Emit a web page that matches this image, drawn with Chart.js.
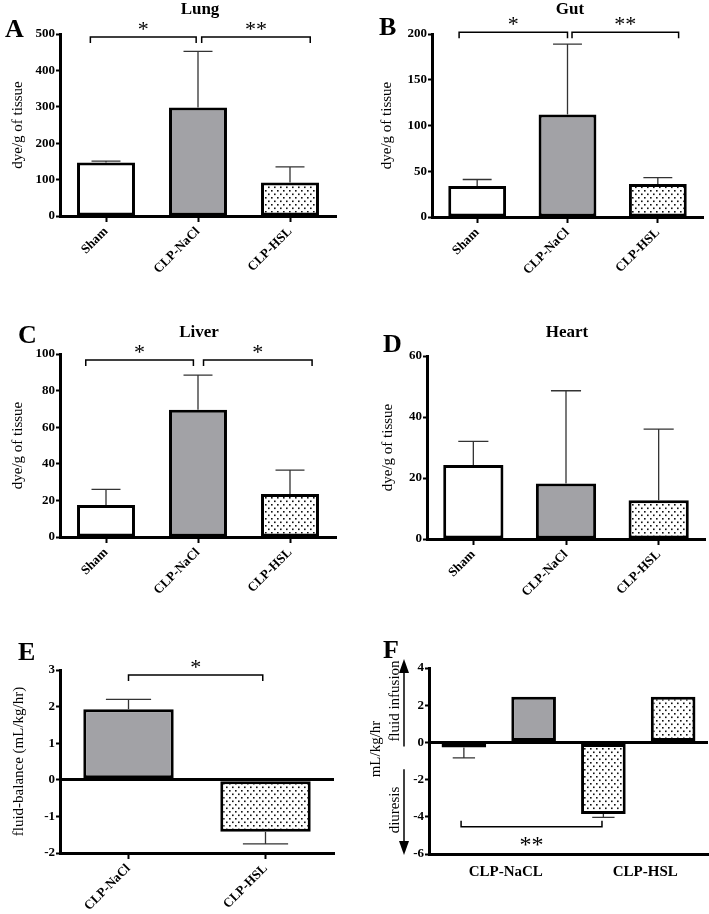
<!DOCTYPE html>
<html>
<head>
<meta charset="utf-8">
<script src="https://cdn.jsdelivr.net/npm/chart.js@4"></script>
<style>
  body { margin: 0; background: #fff; }
  #page { position: relative; width: 709px; height: 914px; }
  canvas { position: absolute; }
</style>
</head>
<body>
<div id="page">
  <canvas id="lung" width="355" height="300" style="left:0;top:0"></canvas>
  <canvas id="gut" width="354" height="300" style="left:355px;top:0"></canvas>
  <canvas id="liver" width="355" height="300" style="left:0;top:300px"></canvas>
  <canvas id="heart" width="354" height="300" style="left:355px;top:300px"></canvas>
  <canvas id="balance" width="355" height="314" style="left:0;top:600px"></canvas>
  <canvas id="flow" width="354" height="314" style="left:355px;top:600px"></canvas>
</div>
<script>
// values (mean, and the end of the error bar)
const organGroups = ['Sham', 'CLP-NaCl', 'CLP-HSL'];
const lungMeans = [147, 298, 92];
const lungErrors = [151, 452, 135];
const gutMeans = [34, 112, 36];
const gutErrors = [41, 189, 43];
const liverMeans = [17.5, 69.5, 23.5];
const liverErrors = [26, 88.5, 36.5];
const heartMeans = [24.3, 18.2, 12.7];
const heartErrors = [32, 48.6, 36];

const balanceGroups = ['CLP-NaCl', 'CLP-HSL'];
const balanceMeans = [1.93, -1.42];
const balanceErrors = [2.2, -1.75];

const flowGroups = ['CLP-NaCL', 'CLP-HSL'];
const diuresisMeans = [-0.28, -3.85];
const diuresisErrors = [-0.83, -4.03];
const infusionMeans = [2.45, 2.45];

const SERIF = "'Liberation Serif', 'Times New Roman', serif";
Chart.defaults.font.family = SERIF;
Chart.defaults.color = '#000';

const GREY = '#a2a2a6';

function font(size, weight) {
    return { family: SERIF, size: size, weight: weight || 'normal' };
}

// white fill with small staggered black dots
function makeDots() {
    const c = document.createElement('canvas');
    c.width = 6; c.height = 7;
    const g = c.getContext('2d');
    g.fillStyle = '#fff';
    g.fillRect(0, 0, 6, 7);
    g.fillStyle = '#111';
    g.fillRect(1, 1, 1.6, 1.6);
    g.fillRect(4, 4.5, 1.6, 1.6);
    return g.createPattern(c, 'repeat');
}
const DOTS = makeDots();
const organFills = ['#fff', GREY, DOTS];

// error bars, drawn from the bar end to the value in dataset.errorEnds
const errorBars = {
    id: 'errorBars',
    afterDatasetsDraw(chart) {
        const ctx = chart.ctx;
        const y = chart.scales.y;
        chart.data.datasets.forEach((ds, i) => {
            if (!ds.errorEnds) return;
            chart.getDatasetMeta(i).data.forEach((bar, j) => {
                const end = ds.errorEnds[j];
                if (end == null) return;
                const yEnd = y.getPixelForValue(end);
                const cap = bar.width / 4;
                ctx.save();
                ctx.strokeStyle = '#333';
                ctx.lineWidth = 1.3;
                ctx.beginPath();
                ctx.moveTo(bar.x, bar.y);
                ctx.lineTo(bar.x, yEnd);
                ctx.moveTo(bar.x - cap, yEnd);
                ctx.lineTo(bar.x + cap, yEnd);
                ctx.stroke();
                ctx.restore();
            });
        });
    }
};

// panel letter, title, significance brackets and extra labels
function decor(spec) {
    return {
        id: 'decor',
        afterDraw(chart) {
            const ctx = chart.ctx;
            const xs = chart.scales.x, ys = chart.scales.y;
            ctx.save();
            ctx.fillStyle = '#000';
            ctx.textBaseline = 'alphabetic';
            ctx.textAlign = 'left';
            ctx.font = 'bold 26px ' + SERIF;
            ctx.fillText(spec.letter[0], spec.letter[1], spec.letter[2]);
            if (spec.title) {
                ctx.textAlign = 'center';
                ctx.font = 'bold 17px ' + SERIF;
                ctx.fillText(spec.title[0], spec.title[1], spec.title[2]);
            }
            (spec.brackets || []).forEach(b => {
                const x1 = xs.getPixelForValue(b.from);
                const x2 = xs.getPixelForValue(b.to);
                const yp = ys.getPixelForValue(b.y);
                const d = b.below ? -6 : 6;
                ctx.strokeStyle = '#000';
                ctx.lineWidth = 1.5;
                ctx.beginPath();
                ctx.moveTo(x1, yp + d);
                ctx.lineTo(x1, yp);
                ctx.lineTo(x2, yp);
                ctx.lineTo(x2, yp + d);
                ctx.stroke();
                ctx.textAlign = 'center';
                ctx.font = (b.size || 22) + 'px ' + SERIF;
                ctx.fillText(b.text, (x1 + x2) / 2, b.below ? yp + 25 : yp - 1);
            });
            if (spec.extra) spec.extra(ctx, chart);
            ctx.restore();
        }
    };
}

function axisX(area, opts) {
    return Object.assign({
        afterFit: s => { s.height = area.h - area.bottom; },
        border: { display: true, color: '#000', width: 3 },
        grid: { display: true, drawOnChartArea: false, offset: false, color: '#000', tickColor: '#000', tickLength: 6, tickWidth: 2 },
        ticks: { minRotation: 45, maxRotation: 45, padding: 2, color: '#000', font: font(13, 'bold') }
    }, opts || {});
}

function axisY(area, min, max, step, title, zeroLine) {
    return {
        min: min, max: max,
        afterFit: s => { s.width = area.left; },
        border: { display: true, color: '#000', width: 3 },
        grid: zeroLine ? {
            drawOnChartArea: true,
            color: c => c.tick && c.tick.value === 0 ? '#000' : 'rgba(0,0,0,0)',
            lineWidth: c => c.tick && c.tick.value === 0 ? 3 : 1,
            tickColor: '#000', tickLength: 4, tickWidth: 2
        } : { drawOnChartArea: false, color: '#000', tickColor: '#000', tickLength: 4, tickWidth: 2 },
        ticks: { stepSize: step, padding: 1, color: '#000', font: font(13, 'bold') },
        title: title ? { display: true, text: title[0], color: '#000', font: font(15), padding: { top: title[1], bottom: 0 } } : { display: false }
    };
}

function barChart(id, area, labels, datasets, x, y, spec) {
    return new Chart(document.getElementById(id), {
        type: 'bar',
        data: { labels: labels, datasets: datasets },
        options: {
            responsive: false,
            animation: false,
            layout: { padding: { left: 0, top: area.top, right: area.w - area.right, bottom: 0 } },
            plugins: { legend: { display: false }, tooltip: { enabled: false } },
            scales: { x: x, y: y }
        },
        plugins: [errorBars, decor(spec)]
    });
}

function organSet(means, errors, pct) {
    return [{
        data: means,
        errorEnds: errors,
        backgroundColor: organFills,
        borderColor: '#000',
        borderWidth: 3,
        borderSkipped: false,
        categoryPercentage: 1,
        barPercentage: pct
    }];
}

// A - Lung
const areaA = { w: 355, h: 300, left: 60, right: 336, top: 34, bottom: 216 };
barChart('lung', areaA, organGroups, organSet(lungMeans, lungErrors, 0.63),
    axisX(areaA), axisY(areaA, 0, 500, 100, ['dye/g of tissue', 9]), {
        letter: ['A', 5, 37], title: ['Lung', 200, 14],
        brackets: [{ from: -0.17, to: 0.98, y: 492, text: '*' }, { from: 1.04, to: 2.22, y: 492, text: '**' }]
    });

// B - Gut
const areaB = { w: 354, h: 300, left: 77, right: 348, top: 34, bottom: 217 };
barChart('gut', areaB, organGroups, organSet(gutMeans, gutErrors, 0.64),
    axisX(areaB), axisY(areaB, 0, 200, 50, ['dye/g of tissue', 23]), {
        letter: ['B', 24, 35], title: ['Gut', 215, 14],
        brackets: [{ from: -0.2, to: 1.0, y: 202, text: '*' }, { from: 1.05, to: 2.23, y: 202, text: '**' }]
    });

// C - Liver
const areaC = { w: 355, h: 300, left: 60, right: 336, top: 54, bottom: 237 };
barChart('liver', areaC, organGroups, organSet(liverMeans, liverErrors, 0.63),
    axisX(areaC), axisY(areaC, 0, 100, 20, ['dye/g of tissue', 9]), {
        letter: ['C', 18, 43], title: ['Liver', 199, 37],
        brackets: [{ from: -0.22, to: 0.95, y: 96.7, text: '*' }, { from: 1.06, to: 2.24, y: 96.7, text: '*' }]
    });

// D - Heart
const areaD = { w: 354, h: 300, left: 72, right: 350, top: 56, bottom: 239 };
barChart('heart', areaD, organGroups, organSet(heartMeans, heartErrors, 0.65),
    axisX(areaD), axisY(areaD, 0, 60, 20, ['dye/g of tissue', 24]), {
        letter: ['D', 28, 52], title: ['Heart', 212, 37]
    });

// E - fluid balance
const areaE = { w: 355, h: 314, left: 60, right: 334, top: 70, bottom: 253 };
barChart('balance', areaE, balanceGroups, [{
        data: balanceMeans,
        errorEnds: balanceErrors,
        backgroundColor: [GREY, DOTS],
        borderColor: '#000',
        borderWidth: 3,
        borderSkipped: false,
        categoryPercentage: 1,
        barPercentage: 0.66
    }],
    axisX(areaE), axisY(areaE, -2, 3, 1, ['fluid-balance (mL/kg/hr)', 10], true), {
        letter: ['E', 18, 60],
        brackets: [{ from: 0, to: 0.98, y: 2.86, text: '*' }]
    });

// F - diuresis vs fluid infusion
function arrow(ctx, x, yFrom, yTip) {
    const dir = yTip < yFrom ? 1 : -1;
    ctx.strokeStyle = '#000';
    ctx.lineWidth = 1.5;
    ctx.beginPath();
    ctx.moveTo(x, yFrom);
    ctx.lineTo(x, yTip + dir * 12);
    ctx.stroke();
    ctx.beginPath();
    ctx.moveTo(x, yTip);
    ctx.lineTo(x - 5, yTip + dir * 14);
    ctx.lineTo(x + 5, yTip + dir * 14);
    ctx.closePath();
    ctx.fill();
}
function vText(ctx, text, x, y) {
    ctx.save();
    ctx.translate(x, y);
    ctx.rotate(-Math.PI / 2);
    ctx.textAlign = 'center';
    ctx.textBaseline = 'middle';
    ctx.font = '15px ' + SERIF;
    ctx.fillText(text, 0, 0);
    ctx.restore();
}

const areaF = { w: 354, h: 314, left: 74, right: 353, top: 68, bottom: 254 };
const flowBar = { borderColor: '#000', borderWidth: 3, borderSkipped: false, categoryPercentage: 1, barPercentage: 0.64, backgroundColor: [GREY, DOTS] };
barChart('flow', areaF, flowGroups, [
        Object.assign({ data: diuresisMeans, errorEnds: diuresisErrors }, flowBar),
        Object.assign({ data: infusionMeans }, flowBar)
    ],
    axisX(areaF, {
        grid: { display: false, drawTicks: false },
        ticks: { maxRotation: 0, minRotation: 0, padding: 9, labelOffset: 7, color: '#000', font: font(15, 'bold') }
    }),
    axisY(areaF, -6, 4, 2, null, true), {
        letter: ['F', 28, 58],
        brackets: [{ from: -0.27, to: 0.74, y: -4.53, text: '**', below: true, size: 24 }],
        extra: (ctx, chart) => {
            const ys = chart.scales.y;
            arrow(ctx, 49, ys.getPixelForValue(0) + 4, ys.getPixelForValue(4) - 9);
            arrow(ctx, 49, ys.getPixelForValue(-1.45), ys.getPixelForValue(-6) + 1);
            vText(ctx, 'fluid infusion', 40, 101);
            vText(ctx, 'diuresis', 40, 210);
            vText(ctx, 'mL/kg/hr', 21, 149);
        }
    });
</script>
</body>
</html>
